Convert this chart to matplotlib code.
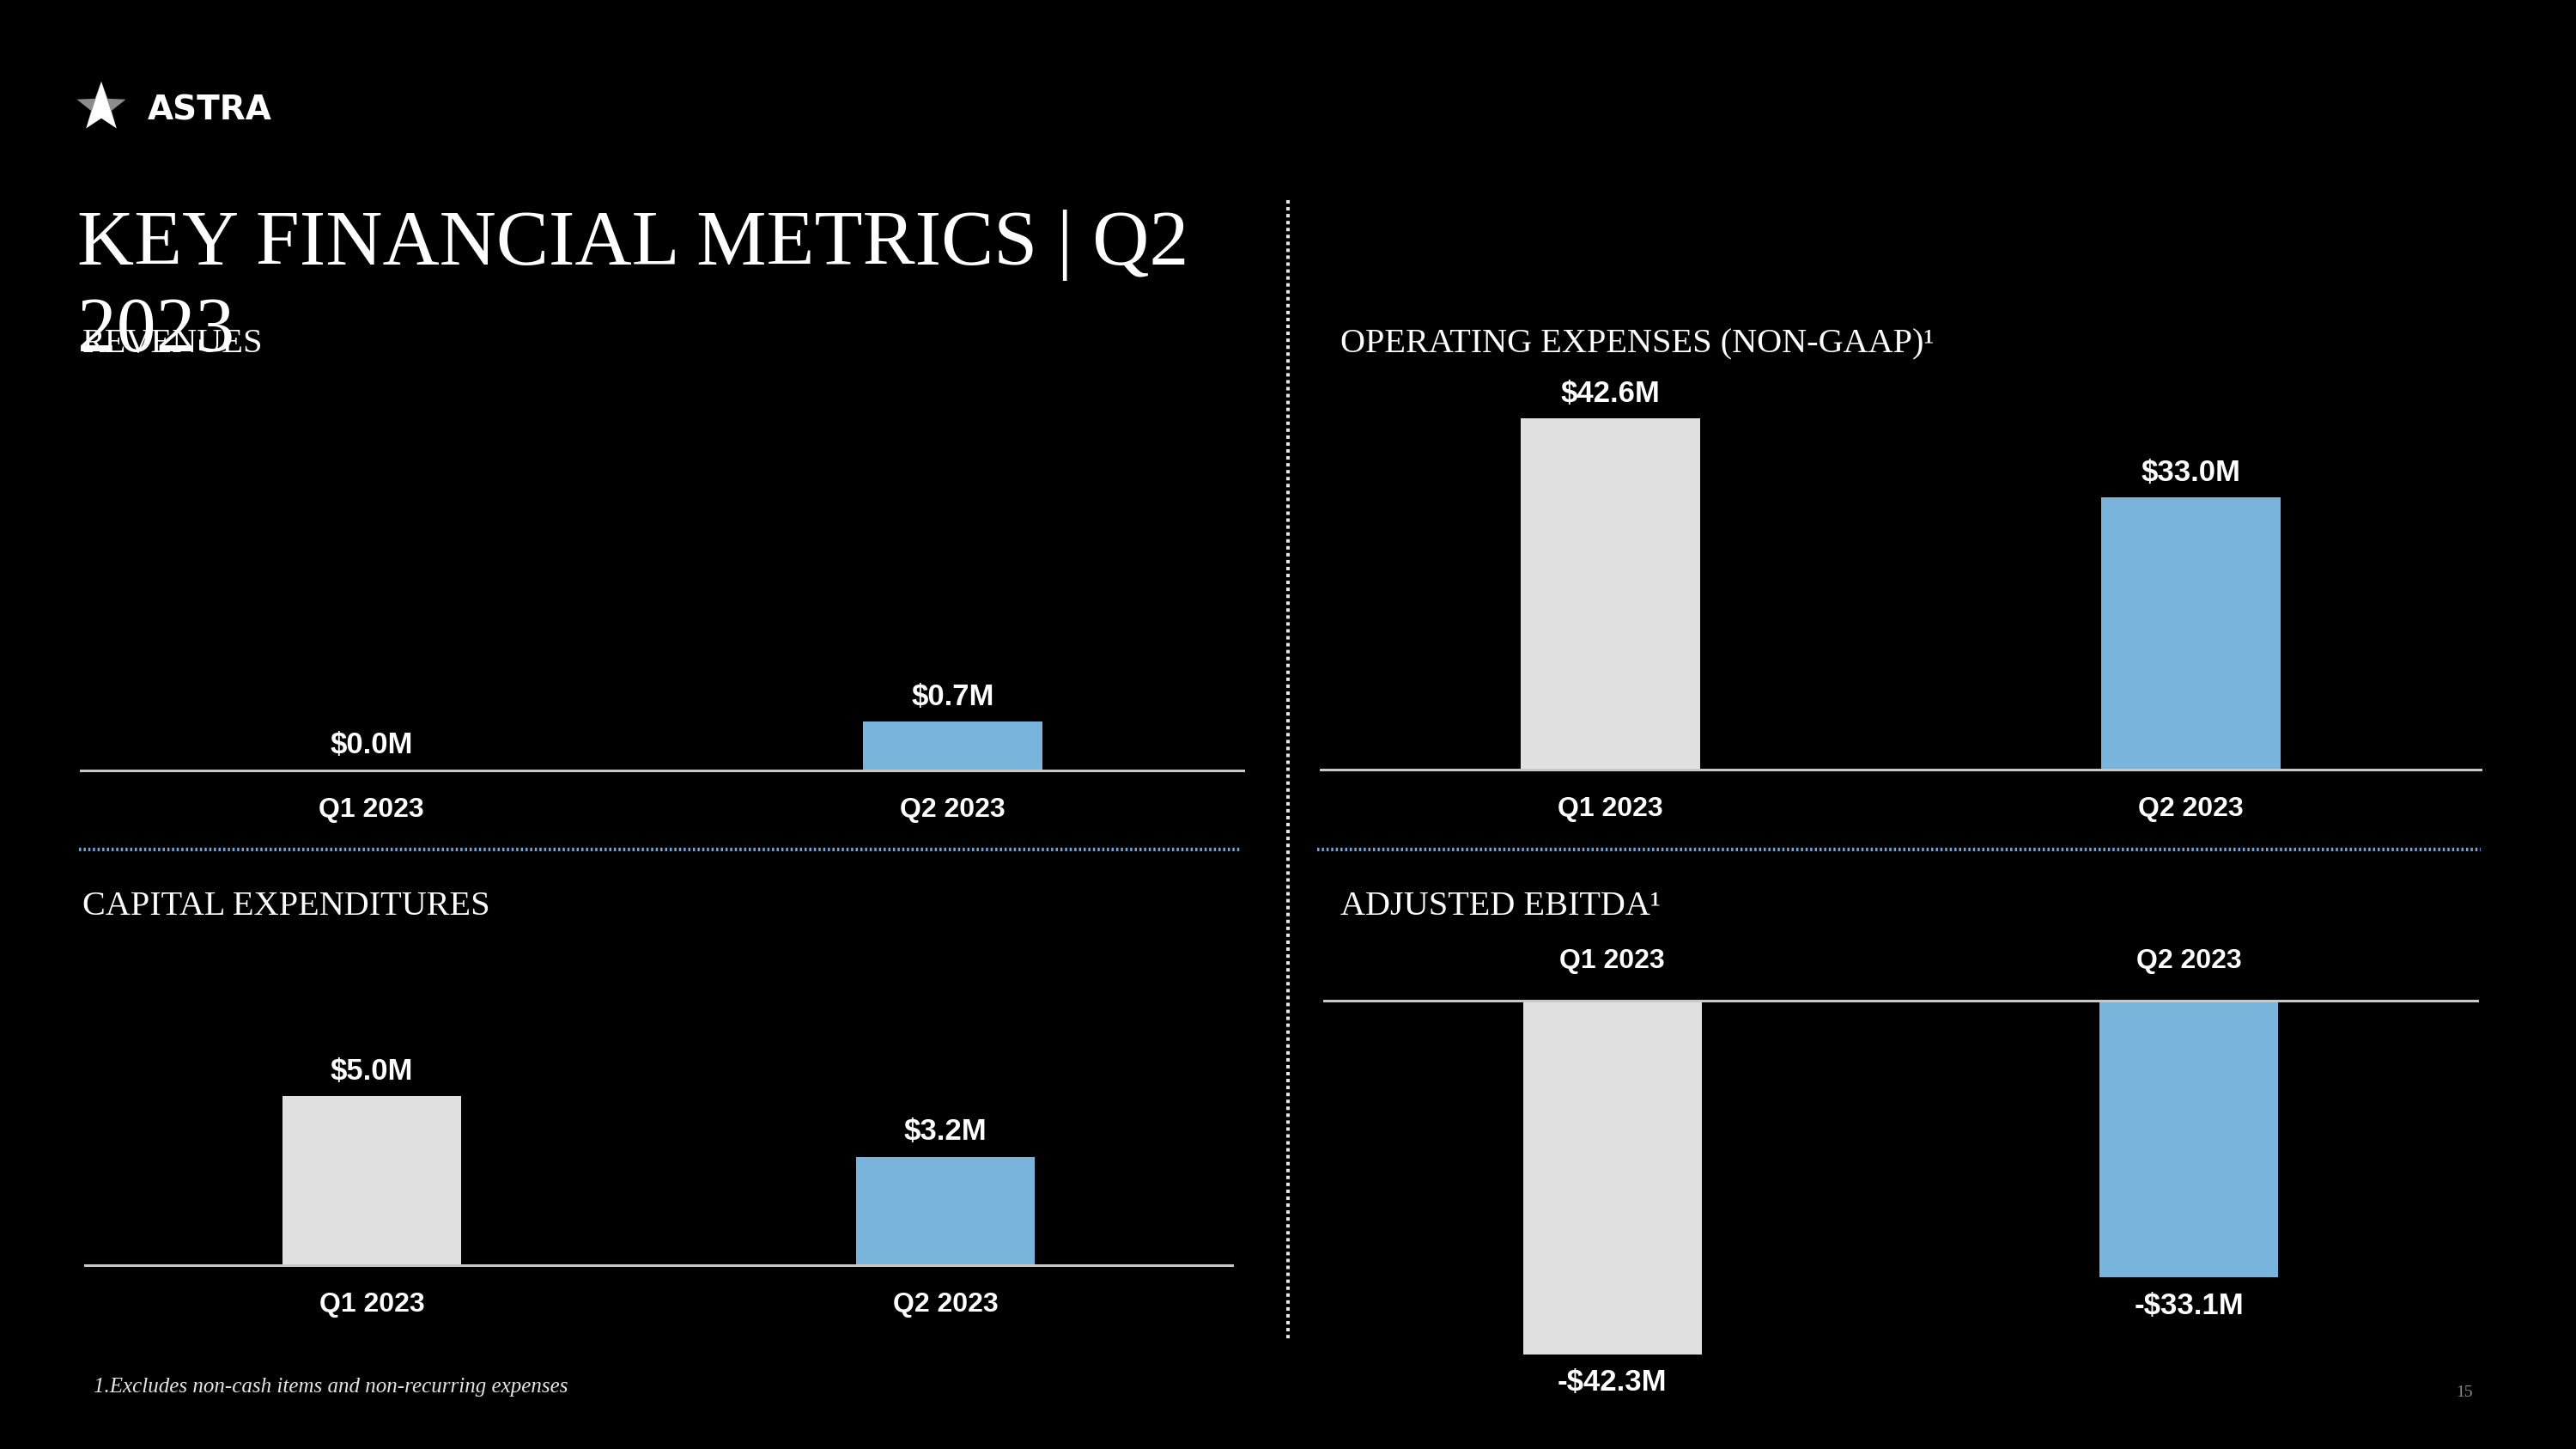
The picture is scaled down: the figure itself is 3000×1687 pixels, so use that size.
import numpy as np
import matplotlib.pyplot as plt
from matplotlib.patches import Polygon

# slide size in pixels (figure is 30 x 16.87 in at 100 dpi)
W, H = 3000, 1687

quarters = ['Q1 2023', 'Q2 2023']
revenues = [0.0, 0.7]
opex = [42.6, 33.0]
capex = [5.0, 3.2]
ebitda = [-42.3, -33.1]

bar_colors = ['#E0E0E0', '#79B4DC']
NARROW = ['Liberation Sans Narrow', 'Liberation Sans', 'DejaVu Sans']
SERIF = ['Liberation Serif', 'DejaVu Serif']


def money(v):
    if v < 0:
        return '-$%.1fM' % abs(v)
    return '$%.1fM' % v


fig = plt.figure(figsize=(30, 16.87), dpi=100, facecolor='black')

# full-slide axes in pixel units for the decorations
deco = fig.add_axes([0, 0, 1, 1])
deco.set_xlim(0, W)
deco.set_ylim(H, 0)
deco.axis('off')
deco.set_facecolor('black')


def panel(x0, x1, base, ppu, lo, hi):
    # base = pixel row of the zero line, ppu = pixels per $M
    top = base - hi * ppu
    bot = base - lo * ppu
    ax = fig.add_axes([x0 / W, 1 - bot / H, (x1 - x0) / W, (bot - top) / H])
    ax.set_xlim(-0.5, 1.5)
    ax.set_ylim(lo, hi)
    ax.patch.set_alpha(0)
    for s in ax.spines.values():
        s.set_visible(False)
    ax.set_yticks([])
    return ax


def draw(ax, vals, negative=False):
    bars = ax.bar([0, 1], vals, width=0.31, color=bar_colors, zorder=1)
    ax.set_xticks([0, 1], quarters, fontfamily=NARROW, fontweight='bold',
                  fontsize=23, color='white')
    side = 'top' if negative else 'bottom'
    if negative:
        ax.xaxis.tick_top()
        ax.tick_params(axis='x', length=0, pad=22)
        pad = 12
    else:
        ax.tick_params(axis='x', length=0, pad=22)
        pad = 9
    ax.spines[side].set_visible(True)
    ax.spines[side].set_color('#C8C8C8')
    ax.spines[side].set_linewidth(2.2)
    ax.bar_label(bars, labels=[money(v) for v in vals], padding=pad,
                 color='white', fontsize=25, fontweight='bold', fontfamily=NARROW)


ax1 = panel(94, 1448, 897, 81.4, 0, 5)
draw(ax1, revenues)
ax2 = panel(1538, 2889, 896, 9.6, 0, 45)
draw(ax2, opex)
ax3 = panel(99, 1435, 1473, 39.4, 0, 8)
draw(ax3, capex)
ax4 = panel(1542, 2885, 1165, 9.73, -45, 0)
draw(ax4, ebitda, negative=True)

# dividers
deco.plot([1500, 1500], [233, 1559], color='#E6E6E6', lw=2.9, dashes=(1, 1))
deco.plot([92, 1444], [989, 989], color='#6FA8DC', lw=3, dashes=(0.6, 0.7))
deco.plot([1534, 2889], [989, 989], color='#6FA8DC', lw=3, dashes=(0.6, 0.7))

# logo star: grey side arms, white arrowhead on top
cx, cy, R, r = 118, 125, 30, 12.6
pts = []
for i in range(10):
    a = np.radians(90 + 36 * i)
    rad = R if i % 2 == 0 else r
    pts.append((cx + rad * np.cos(a), cy - rad * np.sin(a)))
deco.add_patch(Polygon(pts, closed=True, facecolor='#8C8C8C', edgecolor='none'))
head = [pts[0], pts[4], pts[5], pts[6]]
deco.add_patch(Polygon(head, closed=True, facecolor='white', edgecolor='none'))
deco.text(172, 128, 'ASTRA', va='center', ha='left', fontsize=28,
          fontweight='bold', color='white', family='DejaVu Sans')

# title and panel headers
deco.text(90, 308, 'KEY FINANCIAL METRICS | Q2', va='baseline', fontsize=66,
          color='white', family=SERIF)
deco.text(90, 409, '2023', va='baseline', fontsize=66, color='white', family=SERIF)
deco.text(96, 410, 'REVENUES', va='baseline', fontsize=29, color='white', family=SERIF)
deco.text(1561, 410, 'OPERATING EXPENSES (NON-GAAP)¹', va='baseline', fontsize=29,
          color='white', family=SERIF)
deco.text(96, 1065, 'CAPITAL EXPENDITURES', va='baseline', fontsize=29,
          color='white', family=SERIF)
deco.text(1561, 1065, 'ADJUSTED EBITDA¹', va='baseline', fontsize=29,
          color='white', family=SERIF)

# footnote and page number
deco.text(109, 1615, '1.Excludes non-cash items and non-recurring expenses',
          va='center', fontsize=18, style='italic', color='#E6E6E6', family=SERIF)
deco.text(2870, 1622, '15', ha='center', va='center', fontsize=14,
          color='#8C8C8C', family=SERIF)

fig.savefig('out.png', dpi=100, facecolor='black')
